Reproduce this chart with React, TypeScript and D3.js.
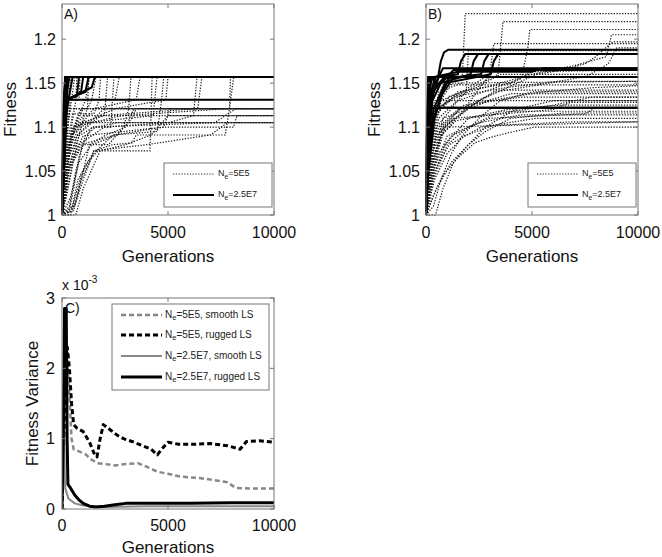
import * as d3 from 'd3'

type Run = [number, number][]

const genTicks = [0, 5000, 10000]
const fitTicks = [1, 1.05, 1.1, 1.15, 1.2]
const fitTickLabels = ['1', '1.05', '1.1', '1.15', '1.2']
const varTicks = [0, 1, 2, 3]

// panel A, Ne = 5E5 (dotted runs)
const runsASmallNe: Run[] = [
  [[0, 1], [80, 1.04], [180, 1.09], [300, 1.13], [420, 1.157], [10000, 1.157]],
  [[0, 1], [100, 1.03], [200, 1.07], [320, 1.11], [500, 1.14], [600, 1.157], [10000, 1.157]],
  [[0, 1], [150, 1.02], [300, 1.06], [450, 1.1], [650, 1.13], [700, 1.157], [10000, 1.157]],
  [[0, 1], [120, 1.05], [260, 1.1], [400, 1.131], [800, 1.131], [850, 1.157], [10000, 1.157]],
  [[0, 1], [200, 1.03], [350, 1.07], [600, 1.1], [1000, 1.121], [1200, 1.121], [1260, 1.157], [10000, 1.157]],
  [[0, 1], [90, 1.04], [250, 1.08], [500, 1.115], [1500, 1.115], [1750, 1.131], [1820, 1.157], [10000, 1.157]],
  [[0, 1], [180, 1.05], [400, 1.09], [900, 1.105], [2000, 1.113], [2150, 1.157], [10000, 1.157]],
  [[0, 1], [350, 1.01], [650, 1.05], [1000, 1.08], [1400, 1.1], [2300, 1.1], [2450, 1.157], [10000, 1.157]],
  [[0, 1], [250, 1.03], [500, 1.06], [1000, 1.08], [2200, 1.08], [2900, 1.1], [3150, 1.121], [3250, 1.157], [10000, 1.157]],
  [[0, 1], [200, 1.05], [450, 1.08], [800, 1.1], [1500, 1.121], [3500, 1.131], [3680, 1.157], [10000, 1.157]],
  [[0, 1], [450, 1.005], [750, 1.04], [1200, 1.06], [1700, 1.073], [4150, 1.073], [4250, 1.157], [10000, 1.157]],
  [[0, 1], [150, 1.06], [400, 1.09], [1200, 1.105], [4300, 1.113], [4480, 1.157], [10000, 1.157]],
  [[0, 1], [550, 1.005], [900, 1.04], [1500, 1.07], [2400, 1.091], [4500, 1.095], [4700, 1.131], [4800, 1.157], [10000, 1.157]],
  [[0, 1], [220, 1.05], [600, 1.1], [2500, 1.121], [4900, 1.131], [5000, 1.157], [10000, 1.157]],
  [[0, 1], [300, 1.05], [800, 1.08], [2000, 1.1], [5000, 1.105], [6200, 1.113], [6370, 1.157], [10000, 1.157]],
  [[0, 1], [250, 1.06], [700, 1.09], [1800, 1.113], [6400, 1.121], [6600, 1.157], [10000, 1.157]],
  [[0, 1], [600, 1.01], [1000, 1.04], [1500, 1.073], [2400, 1.08], [3300, 1.082], [3500, 1.091], [7700, 1.091], [7900, 1.121], [7950, 1.157], [10000, 1.157]],
  [[0, 1], [200, 1.07], [500, 1.1], [2800, 1.113], [7900, 1.121], [8100, 1.157], [10000, 1.157]],
  [[0, 1], [100, 1.05], [250, 1.1], [400, 1.121], [10000, 1.121]],
  [[0, 1], [150, 1.04], [350, 1.08], [700, 1.11], [900, 1.121], [10000, 1.121]],
  [[0, 1], [300, 1.05], [700, 1.09], [1500, 1.11], [2000, 1.121], [10000, 1.121]],
  [[0, 1], [400, 1.02], [800, 1.06], [1400, 1.08], [2600, 1.091], [3300, 1.11], [3500, 1.121], [10000, 1.121]],
  [[0, 1], [400, 1.06], [1000, 1.09], [4800, 1.1], [5100, 1.121], [10000, 1.121]],
  [[0, 1], [250, 1.05], [800, 1.09], [1500, 1.1], [7200, 1.105], [8200, 1.121], [10000, 1.121]],
  [[0, 1], [200, 1.07], [600, 1.1], [1000, 1.113], [10000, 1.113]],
  [[0, 1], [300, 1.05], [900, 1.08], [2500, 1.091], [4800, 1.1], [8100, 1.1], [8250, 1.113], [10000, 1.113]],
  [[0, 1], [150, 1.06], [500, 1.09], [800, 1.105], [10000, 1.105]],
  [[0, 1], [500, 1.01], [900, 1.045], [1500, 1.073], [4000, 1.08], [7000, 1.091], [7800, 1.105], [10000, 1.105]],
  [[0, 1], [650, 1.0], [1000, 1.03], [1800, 1.073], [3000, 1.08], [4200, 1.091], [5000, 1.113], [10000, 1.113]],
  [[0, 1], [80, 1.06], [200, 1.11], [350, 1.131], [2500, 1.131], [2700, 1.157], [10000, 1.157]],
  [[0, 1], [120, 1.03], [300, 1.07], [550, 1.1], [1100, 1.13], [1300, 1.157], [10000, 1.157]],
  [[0, 1], [60, 1.05], [150, 1.09], [260, 1.121], [10000, 1.121]],
  [[0, 1], [300, 1.0], [550, 1.03], [800, 1.065], [1100, 1.09], [1600, 1.1], [2600, 1.105], [10000, 1.105]],
  [[0, 1], [400, 1.0], [700, 1.02], [1000, 1.05], [1300, 1.08], [2000, 1.09], [3000, 1.1], [3400, 1.121], [10000, 1.121]],
  [[0, 1], [200, 1.02], [450, 1.05], [700, 1.08], [1000, 1.11], [1400, 1.131], [1600, 1.157], [10000, 1.157]],
]

// panel A, Ne = 2.5E7 (solid runs)
const runsALargeNe: Run[] = [
  [[0, 1], [50, 1.06], [100, 1.12], [150, 1.157], [10000, 1.157]],
  [[0, 1], [60, 1.05], [120, 1.11], [200, 1.157], [10000, 1.157]],
  [[0, 1], [40, 1.08], [90, 1.13], [250, 1.157], [10000, 1.157]],
  [[0, 1], [70, 1.04], [150, 1.1], [220, 1.14], [300, 1.157], [10000, 1.157]],
  [[0, 1], [50, 1.07], [110, 1.12], [200, 1.135], [350, 1.157], [10000, 1.157]],
  [[0, 1], [80, 1.06], [160, 1.12], [300, 1.13], [500, 1.157], [10000, 1.157]],
  [[0, 1], [60, 1.09], [130, 1.131], [700, 1.135], [800, 1.157], [10000, 1.157]],
  [[0, 1], [90, 1.05], [180, 1.11], [300, 1.131], [900, 1.14], [1000, 1.157], [10000, 1.157]],
  [[0, 1], [70, 1.08], [150, 1.131], [1100, 1.14], [1250, 1.157], [10000, 1.157]],
  [[0, 1], [100, 1.07], [200, 1.131], [1400, 1.145], [1550, 1.157], [10000, 1.157]],
  [[0, 1], [60, 1.1], [140, 1.131], [10000, 1.131]],
  [[0, 1], [50, 1.09], [100, 1.14], [180, 1.157], [10000, 1.157]],
  [[0, 1], [80, 1.1], [150, 1.145], [230, 1.157], [10000, 1.157]],
  [[0, 1], [120, 1.06], [220, 1.12], [280, 1.157], [10000, 1.157]],
  [[0, 1], [40, 1.03], [90, 1.09], [140, 1.157], [10000, 1.157]],
]

// panel B, Ne = 5E5 (dotted runs)
const runsBSmallNe: Run[] = [
  [[0, 1], [100, 1.05], [300, 1.1], [600, 1.14], [1700, 1.15], [1850, 1.229], [10000, 1.229]],
  [[0, 1], [150, 1.06], [400, 1.11], [1000, 1.13], [3400, 1.16], [3630, 1.22], [10000, 1.22]],
  [[0, 1], [200, 1.05], [500, 1.1], [1500, 1.13], [4500, 1.155], [4800, 1.19], [4900, 1.211], [10000, 1.211]],
  [[0, 1], [120, 1.07], [350, 1.12], [2000, 1.14], [5000, 1.16], [7000, 1.17], [8500, 1.18], [8750, 1.205], [10000, 1.205]],
  [[0, 1], [250, 1.04], [700, 1.09], [1800, 1.12], [3000, 1.16], [3200, 1.195], [10000, 1.195]],
  [[0, 1], [200, 1.06], [600, 1.11], [1900, 1.14], [2000, 1.187], [10000, 1.187]],
  [[0, 1], [300, 1.05], [900, 1.1], [2500, 1.13], [5200, 1.16], [6500, 1.165], [7500, 1.172], [8000, 1.18], [8800, 1.197], [10000, 1.197]],
  [[0, 1], [180, 1.06], [500, 1.115], [1500, 1.14], [4000, 1.15], [5000, 1.163], [10000, 1.165]],
  [[0, 1], [150, 1.07], [400, 1.12], [800, 1.148], [10000, 1.148]],
  [[0, 1], [250, 1.05], [800, 1.1], [2200, 1.125], [3300, 1.142], [10000, 1.142]],
  [[0, 1], [200, 1.06], [700, 1.1], [1800, 1.125], [4500, 1.134], [10000, 1.134]],
  [[0, 1], [300, 1.04], [900, 1.08], [2000, 1.11], [6000, 1.125], [7800, 1.134], [10000, 1.134]],
  [[0, 1], [120, 1.08], [400, 1.13], [10000, 1.13]],
  [[0, 1], [350, 1.05], [1000, 1.09], [2500, 1.105], [4500, 1.114], [10000, 1.114]],
  [[0, 1], [250, 1.06], [900, 1.1], [10000, 1.106]],
  [[0, 1], [300, 1.02], [800, 1.045], [1500, 1.065], [2300, 1.082], [3000, 1.088], [3800, 1.093], [5100, 1.1], [10000, 1.1]],
  [[0, 1], [200, 1.04], [600, 1.07], [1200, 1.09], [3000, 1.11], [7500, 1.115], [8000, 1.122], [10000, 1.122]],
  [[0, 1], [150, 1.05], [500, 1.09], [1300, 1.11], [6000, 1.12], [6800, 1.128], [10000, 1.128]],
  [[0, 1], [400, 1.05], [1100, 1.08], [2600, 1.1], [5200, 1.11], [10000, 1.11]],
  [[0, 1], [100, 1.06], [300, 1.1], [700, 1.13], [1200, 1.15], [10000, 1.152]],
  [[0, 1], [200, 1.07], [700, 1.13], [1700, 1.14], [2800, 1.157], [10000, 1.157]],
  [[0, 1], [250, 1.05], [800, 1.11], [3000, 1.13], [5500, 1.14], [8000, 1.145], [10000, 1.147]],
  [[0, 1], [180, 1.06], [600, 1.1], [1500, 1.12], [4000, 1.138], [10000, 1.138]],
  [[0, 1], [350, 1.04], [1000, 1.08], [2000, 1.1], [3500, 1.118], [10000, 1.118]],
  [[0, 1], [100, 1.05], [400, 1.11], [1100, 1.135], [2400, 1.145], [3500, 1.16], [10000, 1.16]],
  [[0, 1], [500, 1.03], [1200, 1.06], [2000, 1.08], [2800, 1.1], [4200, 1.12], [6000, 1.13], [10000, 1.13]],
  [[0, 1], [300, 1.06], [800, 1.1], [1600, 1.12], [3300, 1.14], [5800, 1.15], [7600, 1.158], [8600, 1.172], [9000, 1.19], [10000, 1.19]],
  [[0, 1], [200, 1.05], [700, 1.09], [1400, 1.107], [3800, 1.12], [6400, 1.125], [10000, 1.125]],
  [[0, 1], [400, 1.04], [1000, 1.07], [1800, 1.09], [3200, 1.102], [7000, 1.106], [10000, 1.106]],
  [[0, 1], [150, 1.08], [450, 1.12], [1400, 1.135], [3800, 1.145], [6200, 1.152], [10000, 1.152]],
  [[0, 1], [450, 1.0], [800, 1.03], [1300, 1.06], [2000, 1.08], [2800, 1.095], [4000, 1.11], [6500, 1.116], [10000, 1.116]],
  [[0, 1], [350, 1.01], [700, 1.04], [1200, 1.07], [1700, 1.09], [2500, 1.11], [3500, 1.13], [5000, 1.14], [10000, 1.14]],
]

// panel B, Ne = 2.5E7 (solid runs)
const runsBLargeNe: Run[] = [
  [[0, 1], [50, 1.08], [120, 1.14], [200, 1.157], [10000, 1.157]],
  [[0, 1], [60, 1.06], [150, 1.12], [250, 1.157], [10000, 1.157]],
  [[0, 1], [40, 1.1], [100, 1.157], [10000, 1.157]],
  [[0, 1], [80, 1.05], [200, 1.13], [400, 1.157], [570, 1.157], [700, 1.175], [850, 1.185], [1050, 1.188], [10000, 1.188]],
  [[0, 1], [70, 1.08], [200, 1.14], [600, 1.157], [1500, 1.16], [1650, 1.175], [1850, 1.183], [10000, 1.183]],
  [[0, 1], [90, 1.07], [300, 1.13], [700, 1.15], [2100, 1.16], [2250, 1.175], [2450, 1.183], [10000, 1.183]],
  [[0, 1], [60, 1.09], [250, 1.14], [800, 1.155], [2600, 1.16], [2750, 1.175], [2950, 1.183], [10000, 1.183]],
  [[0, 1], [100, 1.06], [350, 1.12], [900, 1.15], [3050, 1.16], [3200, 1.175], [3400, 1.183], [10000, 1.183]],
  [[0, 1], [70, 1.07], [250, 1.13], [600, 1.157], [800, 1.167], [10000, 1.167]],
  [[0, 1], [80, 1.08], [300, 1.14], [1000, 1.157], [1300, 1.165], [10000, 1.165]],
  [[0, 1], [50, 1.1], [150, 1.15], [400, 1.157], [1500, 1.163], [5000, 1.163], [5500, 1.167], [10000, 1.167]],
  [[0, 1], [60, 1.07], [200, 1.122], [10000, 1.122]],
  [[0, 1], [100, 1.06], [300, 1.1], [500, 1.122], [10000, 1.122]],
  [[0, 1], [120, 1.05], [400, 1.11], [800, 1.14], [1100, 1.157], [10000, 1.157]],
  [[0, 1], [90, 1.06], [350, 1.108], [700, 1.135], [1300, 1.157], [10000, 1.157]],
  [[0, 1], [40, 1.09], [120, 1.14], [180, 1.157], [10000, 1.157]],
  [[0, 1], [70, 1.05], [180, 1.11], [300, 1.14], [450, 1.157], [10000, 1.157]],
]

// panel C, fitness variance (x 10^-3)
const varSmoothSmallNe: Run = [
  [0, 0], [100, 1.2], [250, 2.1], [350, 1.6], [450, 1.0], [550, 0.85], [800, 0.82], [1100, 0.78],
  [1400, 0.7], [1700, 0.65], [2000, 0.64], [2500, 0.62], [3000, 0.64], [3600, 0.65], [4000, 0.6],
  [4500, 0.53], [5000, 0.5], [5600, 0.46], [6500, 0.44], [7200, 0.41], [7800, 0.38], [8200, 0.3],
  [9000, 0.29], [10000, 0.29],
]
const varRuggedSmallNe: Run = [
  [0, 0], [120, 1.4], [250, 2.3], [350, 2.0], [450, 1.5], [550, 1.2], [700, 1.15], [1000, 1.1],
  [1300, 0.95], [1500, 0.8], [1650, 0.74], [1800, 1.0], [1950, 1.2], [2300, 1.12], [2600, 1.05],
  [2900, 1.0], [3300, 0.96], [3800, 0.9], [4200, 0.85], [4500, 0.77], [4700, 0.85], [5000, 0.95],
  [5500, 0.92], [6200, 0.92], [7000, 0.93], [7800, 0.9], [8400, 0.85], [8700, 0.96], [9300, 0.97],
  [10000, 0.95],
]
const varSmoothLargeNe: Run = [
  [0, 0], [40, 1.15], [90, 1.1], [150, 0.3], [300, 0.15], [600, 0.08], [1000, 0.05], [2000, 0.03],
  [4000, 0.04], [10000, 0.04],
]
const varRuggedLargeNe: Run = [
  [0, 0], [60, 1.0], [120, 2.85], [200, 2.85], [240, 1.0], [280, 0.35], [400, 0.3], [600, 0.2],
  [800, 0.13], [1000, 0.08], [1300, 0.04], [1600, 0.03], [2000, 0.04], [2500, 0.06], [3000, 0.08],
  [4000, 0.08], [6000, 0.08], [8000, 0.09], [10000, 0.09],
]

const FONT = 'Liberation Sans, Arial, Helvetica, sans-serif'
const FRAME = '#777'
const DOT = '1.3,1.5'
const PW = 212
const PH = 211

function Ne({x, y, rest, size}: {x: number; y: number; rest: string; size: number}) {
  return (
    <text x={x} y={y} fontSize={size} fontFamily={FONT} fill="#222" dominantBaseline="middle">
      <tspan>N</tspan>
      <tspan dy={3} fontSize={size * 0.75}>e</tspan>
      <tspan dy={-3}>{rest}</tspan>
    </text>
  )
}

function Frame({left, top, x, y, yTicks}: {left: number; top: number; x: d3.ScaleLinear<number, number>; y: d3.ScaleLinear<number, number>; yTicks: number[]}) {
  const tl = 4
  return (
    <g>
      <rect x={left} y={top} width={PW} height={PH} fill="none" stroke={FRAME} strokeWidth={1} />
      {genTicks.map(t => (
        <g key={'x' + t}>
          <line x1={x(t)} x2={x(t)} y1={top + PH} y2={top + PH - tl} stroke={FRAME} />
          <line x1={x(t)} x2={x(t)} y1={top} y2={top + tl} stroke={FRAME} />
        </g>
      ))}
      {yTicks.map(t => (
        <g key={'y' + t}>
          <line x1={left} x2={left + tl} y1={y(t)} y2={y(t)} stroke={FRAME} />
          <line x1={left + PW} x2={left + PW - tl} y1={y(t)} y2={y(t)} stroke={FRAME} />
        </g>
      ))}
    </g>
  )
}

function FitnessPanel({left, top, label, dotted, solid}: {left: number; top: number; label: string; dotted: Run[]; solid: Run[]}) {
  const x = d3.scaleLinear().domain([0, 10000]).range([left, left + PW])
  const y = d3.scaleLinear().domain([1, 1.24]).range([top + PH, top])
  const line = d3.line<[number, number]>().x(d => x(d[0])).y(d => y(d[1]))
  const clip = 'clip' + label
  const lgRight = left + PW - 2
  const lgLeft = lgRight - 108
  return (
    <g>
      <defs>
        <clipPath id={clip}>
          <rect x={left} y={top} width={PW} height={PH} />
        </clipPath>
      </defs>
      <g clipPath={`url(#${clip})`}>
        {dotted.map((r, i) => (
          <path key={'d' + i} d={line(r) || ''} fill="none" stroke="#1a1a1a" strokeWidth={1.2} strokeDasharray={DOT} />
        ))}
        {solid.map((r, i) => (
          <path key={'s' + i} d={line(r) || ''} fill="none" stroke="#000" strokeWidth={2} />
        ))}
      </g>
      <Frame left={left} top={top} x={x} y={y} yTicks={fitTicks} />
      {fitTicks.map((t, i) => (
        <text key={t} x={left - 6} y={y(t)} dy="0.35em" textAnchor="end" fontSize={16} fontFamily={FONT} fill="#111">
          {fitTickLabels[i]}
        </text>
      ))}
      {genTicks.map(t => (
        <text key={t} x={x(t)} y={top + PH + 23} textAnchor="middle" fontSize={16} fontFamily={FONT} fill="#111">
          {t}
        </text>
      ))}
      <text x={left + PW / 2} y={top + PH + 47} textAnchor="middle" fontSize={17} fontFamily={FONT} fill="#111">
        Generations
      </text>
      <text transform={`translate(${left - 52},${top + PH / 2}) rotate(-90)`} textAnchor="middle" dy="0.35em" fontSize={17} fontFamily={FONT} fill="#111">
        Fitness
      </text>
      <text x={left + 2} y={top + 15} fontSize={14} fontFamily={FONT} fill="#111">
        {label}
      </text>
      <rect x={lgLeft} y={top + 159} width={108} height={44} fill="#fff" stroke={FRAME} />
      <line x1={lgLeft + 9} x2={lgLeft + 50} y1={top + 170} y2={top + 170} stroke="#333" strokeDasharray={DOT} />
      <Ne x={lgLeft + 54} y={top + 170} rest="=5E5" size={9} />
      <line x1={lgLeft + 9} x2={lgLeft + 50} y1={top + 191} y2={top + 191} stroke="#000" strokeWidth={2} />
      <Ne x={lgLeft + 54} y={top + 191} rest="=2.5E7" size={9} />
    </g>
  )
}

function VariancePanel({left, top}: {left: number; top: number}) {
  const x = d3.scaleLinear().domain([0, 10000]).range([left, left + PW])
  const y = d3.scaleLinear().domain([0, 3]).range([top + PH, top])
  const line = d3.line<[number, number]>().x(d => x(d[0])).y(d => y(d[1]))
  const series = [
    {data: varSmoothSmallNe, color: '#888', width: 2.5, dash: '5,3', label: '=5E5, smooth LS'},
    {data: varRuggedSmallNe, color: '#000', width: 3, dash: '5,3', label: '=5E5, rugged LS'},
    {data: varSmoothLargeNe, color: '#888', width: 2, dash: undefined, label: '=2.5E7, smooth LS'},
    {data: varRuggedLargeNe, color: '#000', width: 3, dash: undefined, label: '=2.5E7, rugged LS'},
  ]
  const lgLeft = left + 50
  const lgY = [315, 335, 356, 377]
  return (
    <g>
      <defs>
        <clipPath id="clipC">
          <rect x={left} y={top} width={PW} height={PH} />
        </clipPath>
      </defs>
      <g clipPath="url(#clipC)">
        {series.map((s, i) => (
          <path key={i} d={line(s.data) || ''} fill="none" stroke={s.color} strokeWidth={s.width} strokeDasharray={s.dash} strokeLinejoin="round" />
        ))}
      </g>
      <Frame left={left} top={top} x={x} y={y} yTicks={varTicks} />
      {varTicks.map(t => (
        <text key={t} x={left - 7} y={y(t)} dy="0.35em" textAnchor="end" fontSize={16} fontFamily={FONT} fill="#111">
          {t}
        </text>
      ))}
      {genTicks.map(t => (
        <text key={t} x={x(t)} y={top + PH + 22} textAnchor="middle" fontSize={16} fontFamily={FONT} fill="#111">
          {t}
        </text>
      ))}
      <text x={left + PW / 2} y={top + PH + 44} textAnchor="middle" fontSize={17} fontFamily={FONT} fill="#111">
        Generations
      </text>
      <text transform={`translate(${left - 30},${top + PH / 2}) rotate(-90)`} textAnchor="middle" dy="0.35em" fontSize={17} fontFamily={FONT} fill="#111">
        Fitness Variance
      </text>
      <text x={left} y={top - 8} fontSize={14} fontFamily={FONT} fill="#111">
        x 10<tspan dy={-7} fontSize={10}>-3</tspan>
      </text>
      <text x={left + 3} y={top + 15} fontSize={14} fontFamily={FONT} fill="#111">
        C)
      </text>
      <rect x={lgLeft} y={304} width={157} height={86} fill="#fff" stroke={FRAME} />
      {series.map((s, i) => (
        <g key={'lg' + i}>
          <line x1={lgLeft + 9} x2={lgLeft + 50} y1={lgY[i]} y2={lgY[i]} stroke={s.color} strokeWidth={s.width} strokeDasharray={s.dash} />
          <Ne x={lgLeft + 53} y={lgY[i]} rest={s.label} size={10} />
        </g>
      ))}
    </g>
  )
}

export default function App() {
  return (
    <svg width={662} height={557} style={{position: 'absolute', left: 0, top: 0, background: '#fff'}}>
      <rect width={662} height={557} fill="#fff" />
      <FitnessPanel left={62} top={4} label="A)" dotted={runsASmallNe} solid={runsALargeNe} />
      <FitnessPanel left={426} top={4} label="B)" dotted={runsBSmallNe} solid={runsBLargeNe} />
      <VariancePanel left={62} top={298} />
    </svg>
  )
}
